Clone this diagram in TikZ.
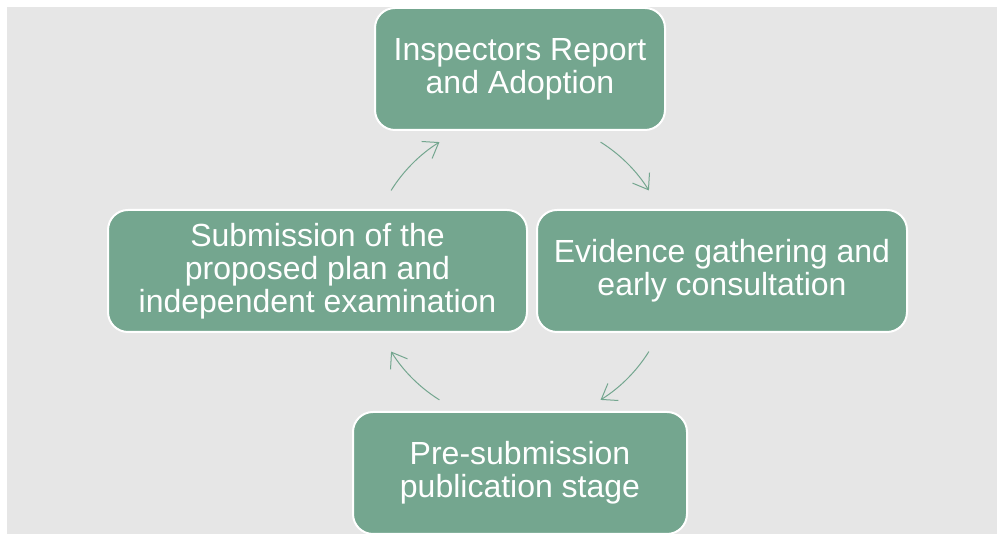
\documentclass[tikz,border=0pt]{standalone}
\usepackage{fontspec}
\setmainfont{Liberation Sans}
\usetikzlibrary{arrows.meta}

\definecolor{verdeCaja}{RGB}{116,166,143}
\definecolor{grisFondo}{RGB}{230,230,230}

\tikzset{
  etapa/.style={draw=white, line width=2pt, fill=verdeCaja, text=white,
    rounded corners=20pt, align=center, minimum height=122pt, inner sep=0pt,
    font=\fontsize{32}{33}\selectfont,
    execute at begin node={\rule{0pt}{31pt}}},
  flecha/.style={draw=verdeCaja, line width=1pt,
    -{Straight Barb[length=14pt,width=20pt]}}
}

\begin{document}
\begin{tikzpicture}[x=1pt,y=1pt]
        \useasboundingbox (0,0) rectangle (997,534);

        % Fondo gris
        \fill[grisFondo] (7,0) rectangle (997,527);

        % Etapas del ciclo
        \node[etapa, minimum width=290pt] (informe)    at (520,465)   {Inspectors Report\\and Adoption};
        \node[etapa, minimum width=370pt] (evidencia)  at (722,263)   {Evidence gathering and\\early consultation};
        \node[etapa, minimum width=334pt] (publicacion) at (520,61)   {Pre-submission\\publication stage};
        \node[etapa, minimum width=419pt] (examen)     at (317.5,263) {Submission of the\\proposed plan and\\independent examination};

        % Centro del ciclo
        \coordinate (centro) at (520,263);

        % Flechas curvas entre etapas
        \foreach \a in {148, 58, -32, -122} {
            \draw[flecha] ([shift={(\a:152)}]centro) arc[start angle=\a, end angle=\a-26, radius=152]; % arco
        }
    \end{tikzpicture}
\end{document}
